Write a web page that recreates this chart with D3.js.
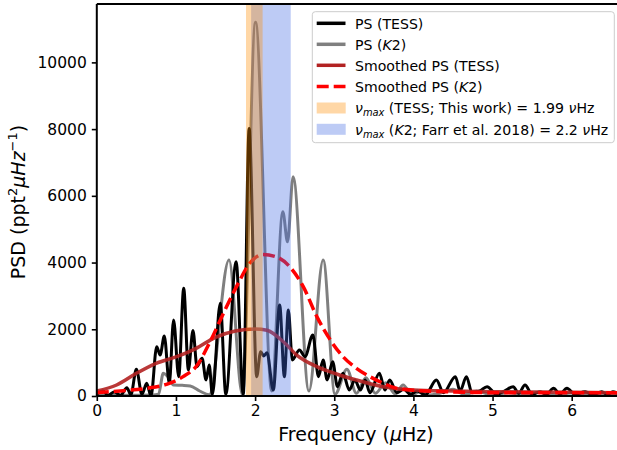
<!DOCTYPE html>
<html><head><meta charset="utf-8">
<script src="https://cdn.jsdelivr.net/npm/d3@7"></script>
<style>body{margin:0;background:#fff} svg{display:block} text{font-family:"DejaVu Sans",sans-serif;fill:#000}</style>
</head><body><svg id="c" width="617" height="450"></svg>
<script>
// ---- data ----
const tessFreq = [0.00,0.08,0.14,0.22,0.30,0.38,0.43,0.50,0.57,0.63,0.685,0.757,0.80,0.853,0.916,0.97,1.035,1.098,1.157,1.215,1.266,1.33,1.38,1.42,1.46,1.56,1.63,1.76,1.85,1.925,2.02,2.07,2.11,2.15,2.23,2.31,2.37,2.42,2.47,2.56,2.63,2.73,2.80,2.86,2.91,2.98,3.04,3.11,3.19,3.26,3.33,3.39,3.45,3.57,3.64,3.70,3.79,3.88,3.96,4.05,4.15,4.29,4.38,4.53,4.59,4.67,4.74,4.84,4.93,5.05,5.15,5.26,5.33,5.41,5.50,5.60,5.68,5.77,5.85,5.94,6.04,6.17,6.27,6.38,6.45,6.52,6.60];
const tessPSD  = [60,150,20,120,20,250,30,800,50,380,0,1480,1230,1800,380,2280,580,3230,780,1960,880,1130,480,930,50,2780,50,4025,50,8020,580,1330,1200,1300,180,2730,580,2580,1080,1380,1180,1830,580,1080,480,1030,280,680,180,480,180,480,100,680,180,480,100,200,50,150,30,480,100,580,150,580,100,150,280,50,150,280,80,330,50,120,50,230,60,230,50,130,40,130,40,130,50];

const k2Freq = [0.00,0.40,0.70,0.78,0.84,0.89,0.97,1.08,1.18,1.30,1.42,1.67,1.84,2.005,2.21,2.35,2.41,2.48,2.68,2.86,3.01,3.16,3.28,3.40,3.52,3.65,3.77,3.87,3.98,4.10,4.20,4.30,4.50,4.65,4.80,5.00,5.20,5.40,5.60,5.80,6.00,6.20,6.40,6.60];
const k2PSD  = [30,20,30,50,680,600,330,320,300,150,40,4075,30,11200,150,5520,4620,6570,150,4075,50,800,80,550,80,400,60,330,40,150,30,60,200,40,150,30,100,30,120,30,90,30,80,30];

const smTessFreq = [0,0.25,0.5,0.75,1.0,1.25,1.5,1.75,2.0,2.15,2.36,2.53,2.78,3.03,3.28,3.62,4.0,4.5,5.0,5.5,6.0,6.6];
const smTessPSD  = [150,330,680,980,1170,1420,1760,1950,2010,1970,1620,1220,880,660,480,280,180,150,130,120,110,100];

const smK2Freq = [0,0.335,0.63,0.88,1.09,1.26,1.43,1.60,1.77,1.94,2.10,2.27,2.44,2.61,2.78,2.95,3.11,3.28,3.45,3.62,3.79,4.0,4.5,5.0,6.0,6.6];
const smK2PSD  = [100,160,230,350,580,900,1620,2480,3300,4000,4240,4170,3870,3270,2380,1680,1180,830,580,380,230,170,120,100,100,100];

const numaxTessBand = [1.885, 2.095];
const numaxK2Band   = [1.95, 2.45];

const xTicks = [0,1,2,3,4,5,6];
const yTicks = [0,2000,4000,6000,8000,10000];

// ---- layout ----
const svg = d3.select("#c");
const L = 96.8, R = 619.2, T = 4, B = 396;
const x = d3.scaleLinear().domain([0, 6.6]).range([L, R]);
const y = d3.scaleLinear().domain([0, 11750]).range([B, T]);

svg.append("defs").append("clipPath").attr("id","clip")
  .append("rect").attr("x",L).attr("y",T).attr("width",R-L).attr("height",B-T);
const plot = svg.append("g").attr("clip-path","url(#clip)");

const mk = (fx, fy) => fx.map((f,i)=>[f, fy[i]]);
const line = d3.line().x(d=>x(d[0])).y(d=>y(d[1])).curve(d3.curveMonotoneX);

plot.append("path").attr("d", line(mk(tessFreq,tessPSD)))
  .attr("fill","none").attr("stroke","#000").attr("stroke-width",3).attr("stroke-linejoin","round");
plot.append("path").attr("d", line(mk(k2Freq,k2PSD)))
  .attr("fill","none").attr("stroke","#000").attr("stroke-opacity",0.5).attr("stroke-width",3).attr("stroke-linejoin","round");
plot.append("path").attr("d", line(mk(smTessFreq,smTessPSD)))
  .attr("fill","none").attr("stroke","#b22222").attr("stroke-opacity",0.9).attr("stroke-width",3.5);
plot.append("path").attr("d", line(mk(smK2Freq,smK2PSD)))
  .attr("fill","none").attr("stroke","#ff0000").attr("stroke-width",3.5).attr("stroke-dasharray","12,5");

plot.append("rect").attr("x",x(numaxK2Band[0])).attr("width",x(numaxK2Band[1])-x(numaxK2Band[0]))
  .attr("y",T).attr("height",B-T).attr("fill","#4169e1").attr("fill-opacity",0.35);
plot.append("rect").attr("x",x(numaxTessBand[0])).attr("width",x(numaxTessBand[1])-x(numaxTessBand[0]))
  .attr("y",T).attr("height",B-T).attr("fill","#ff8c00").attr("fill-opacity",0.35);

// ---- axes ----
const xAxis = svg.append("g").attr("transform",`translate(0,${B})`)
  .call(d3.axisBottom(x).tickValues(xTicks).tickFormat(d3.format("d")).tickSize(5).tickPadding(4));
const yAxis = svg.append("g").attr("transform",`translate(${L},0)`)
  .call(d3.axisLeft(y).tickValues(yTicks).tickFormat(d=>String(d)).tickSize(5).tickPadding(5));
[xAxis,yAxis].forEach(a=>{
  a.select(".domain").remove();
  a.selectAll(".tick line").attr("stroke","#000").attr("stroke-width",1.6);
  a.selectAll(".tick text").attr("font-size","15.5px").attr("font-family","DejaVu Sans").attr("fill","#000");
});
// spines
[[L,L,T,B],[L,R,B,B],[L,R,T,T],[R,R,T,B]].forEach(s=>{
  svg.append("line").attr("x1",s[0]).attr("x2",s[1]).attr("y1",s[2]).attr("y2",s[3])
    .attr("stroke","#000").attr("stroke-width",2);
});

// axis labels
const xl = svg.append("text").attr("x",(L+R)/2 - 2).attr("y",441).attr("text-anchor","middle").attr("font-size","19px");
xl.append("tspan").text("Frequency (");
xl.append("tspan").attr("font-style","italic").text("μ");
xl.append("tspan").text("Hz)");

const ylab = svg.append("text").attr("transform","translate(25,202) rotate(-90)")
  .attr("text-anchor","middle").attr("font-size","19px");
ylab.append("tspan").text("PSD (ppt");
ylab.append("tspan").attr("font-size","13px").attr("dy",-8).text("2");
ylab.append("tspan").attr("font-style","italic").attr("dy",8).text("μHz");
ylab.append("tspan").attr("font-size","13px").attr("dy",-8).text("−1");
ylab.append("tspan").attr("dy",8).text(")");

// ---- legend ----
const lg = svg.append("g");
lg.append("rect").attr("x",312.3).attr("y",11.7).attr("width",302).attr("height",131)
  .attr("rx",3).attr("fill","#fff").attr("fill-opacity",0.8).attr("stroke","#cccccc").attr("stroke-width",1);
const rowY = [23.3, 44.3, 65.3, 86.5, 108, 129.3];
const legendItems = [
  {type:"line", color:"#000", op:1, dash:null, parts:[["PS (TESS)"]]},
  {type:"line", color:"#000", op:0.5, dash:null, parts:[["PS ("],["K","i"],["2)"]]},
  {type:"line", color:"#b22222", op:1, dash:null, parts:[["Smoothed PS (TESS)"]]},
  {type:"line", color:"#ff0000", op:1, dash:"12,5", parts:[["Smoothed PS ("],["K","i"],["2)"]]},
  {type:"patch", color:"#ff8c00", parts:[["ν","i"],["max","s"],[" (TESS; This work) = 1.99 "],["ν","i"],["Hz"]]},
  {type:"patch", color:"#4169e1", parts:[["ν","i"],["max","s"],[" ("],["K","i"],["2; Farr et al. 2018) = 2.2 "],["ν","i"],["Hz"]]}
];
legendItems.forEach((it,i)=>{
  const cy = rowY[i];
  if(it.type==="line"){
    lg.append("line").attr("x1",316.7).attr("x2",345.5).attr("y1",cy).attr("y2",cy)
      .attr("stroke",it.color).attr("stroke-opacity",it.op).attr("stroke-width",3.5)
      .attr("stroke-dasharray",it.dash);
  } else {
    lg.append("rect").attr("x",316.7).attr("y",cy-5.5).attr("width",29).attr("height",11)
      .attr("fill",it.color).attr("fill-opacity",0.35);
  }
  const t = lg.append("text").attr("x",355).attr("y",cy+5.2).attr("font-size","14.1px");
  let sub = false;
  it.parts.forEach(p=>{
    const ts = t.append("tspan").text(p[0]);
    if(p[1]==="i") ts.attr("font-style","italic");
    if(p[1]==="s"){ ts.attr("font-style","italic").attr("font-size","9.9px").attr("dy",3); sub=true; }
    else if(sub){ ts.attr("dy",-3); sub=false; }
  });
});
</script></body></html>
